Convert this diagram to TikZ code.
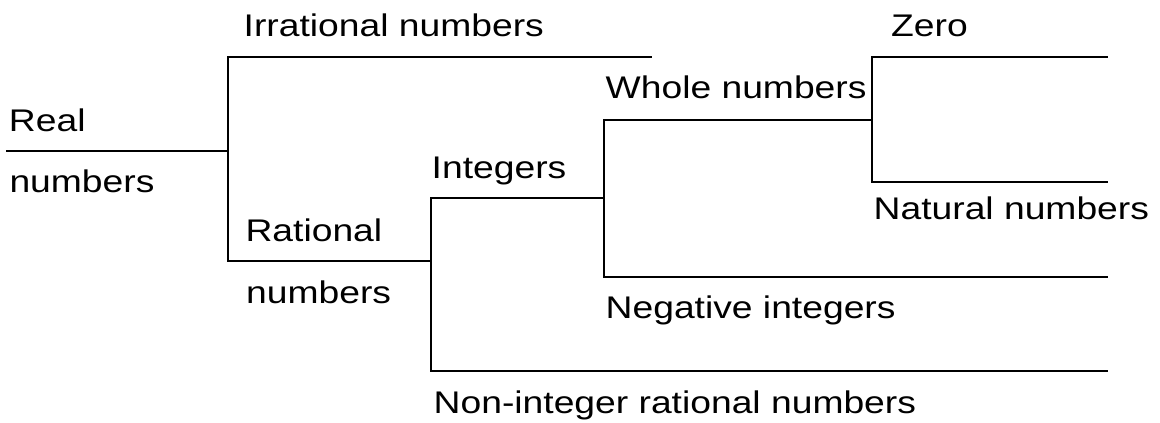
\documentclass[tikz,border=0pt]{standalone}
\usepackage{fontspec}
\newfontfamily\lblfont[FakeStretch=1.19]{Liberation Sans}
\begin{document}
\begin{tikzpicture}[x=1pt,y=-1pt,
  branch/.style={line width=2pt,line cap=rect},
  lbl/.style={anchor=base west,inner sep=0pt,font=\lblfont\fontsize{31.3}{36}\selectfont}]
\useasboundingbox (0,0) rectangle (1160,423);
% branch points of the tree
\coordinate (r0) at (7,151);
\coordinate (r1) at (227.5,151);
\coordinate (irrA) at (227.5,56.5);
\coordinate (irrB) at (651,56.5);
\coordinate (ratA) at (227.5,260.5);
\coordinate (ratB) at (431,260.5);
\coordinate (intA) at (431,197.5);
\coordinate (intB) at (604,197.5);
\coordinate (nonA) at (431,371);
\coordinate (nonB) at (1107,371);
\coordinate (wholeA) at (604,119.5);
\coordinate (wholeB) at (871.5,119.5);
\coordinate (negA) at (604,276.5);
\coordinate (negB) at (1107,276.5);
\coordinate (zeroA) at (871.5,56.5);
\coordinate (zeroB) at (1107,56.5);
\coordinate (natA) at (871.5,181.5);
\coordinate (natB) at (1107,181.5);
% connectors
\draw[branch] (r0) -- (r1);
\draw[branch] (irrB) -- (irrA) -- (ratA) -- (ratB);
\draw[branch] (intB) -- (intA) -- (nonA) -- (nonB);
\draw[branch] (wholeB) -- (wholeA) -- (negA) -- (negB);
\draw[branch] (zeroB) -- (zeroA) -- (natA) -- (natB);
% labels
\node[lbl] (real1) at (8.8,131.5) {Real};
\node[lbl] (real2) at (9.3,192.5) {numbers};
\node[lbl] (irr) at (243.5,36) {Irrational numbers};
\node[lbl] (rat1) at (245.4,241.7) {Rational};
\node[lbl] (rat2) at (246,303) {numbers};
\node[lbl] (int) at (431.5,178.3) {Integers};
\node[lbl] (whole) at (605.5,98.3) {Whole numbers};
\node[lbl] (zero) at (891,36) {Zero};
\node[lbl] (nat) at (873.5,219) {Natural numbers};
\node[lbl] (neg) at (605.5,318) {Negative integers};
\node[lbl] (non) at (433.5,413) {Non-integer rational numbers};
\end{tikzpicture}
\end{document}
